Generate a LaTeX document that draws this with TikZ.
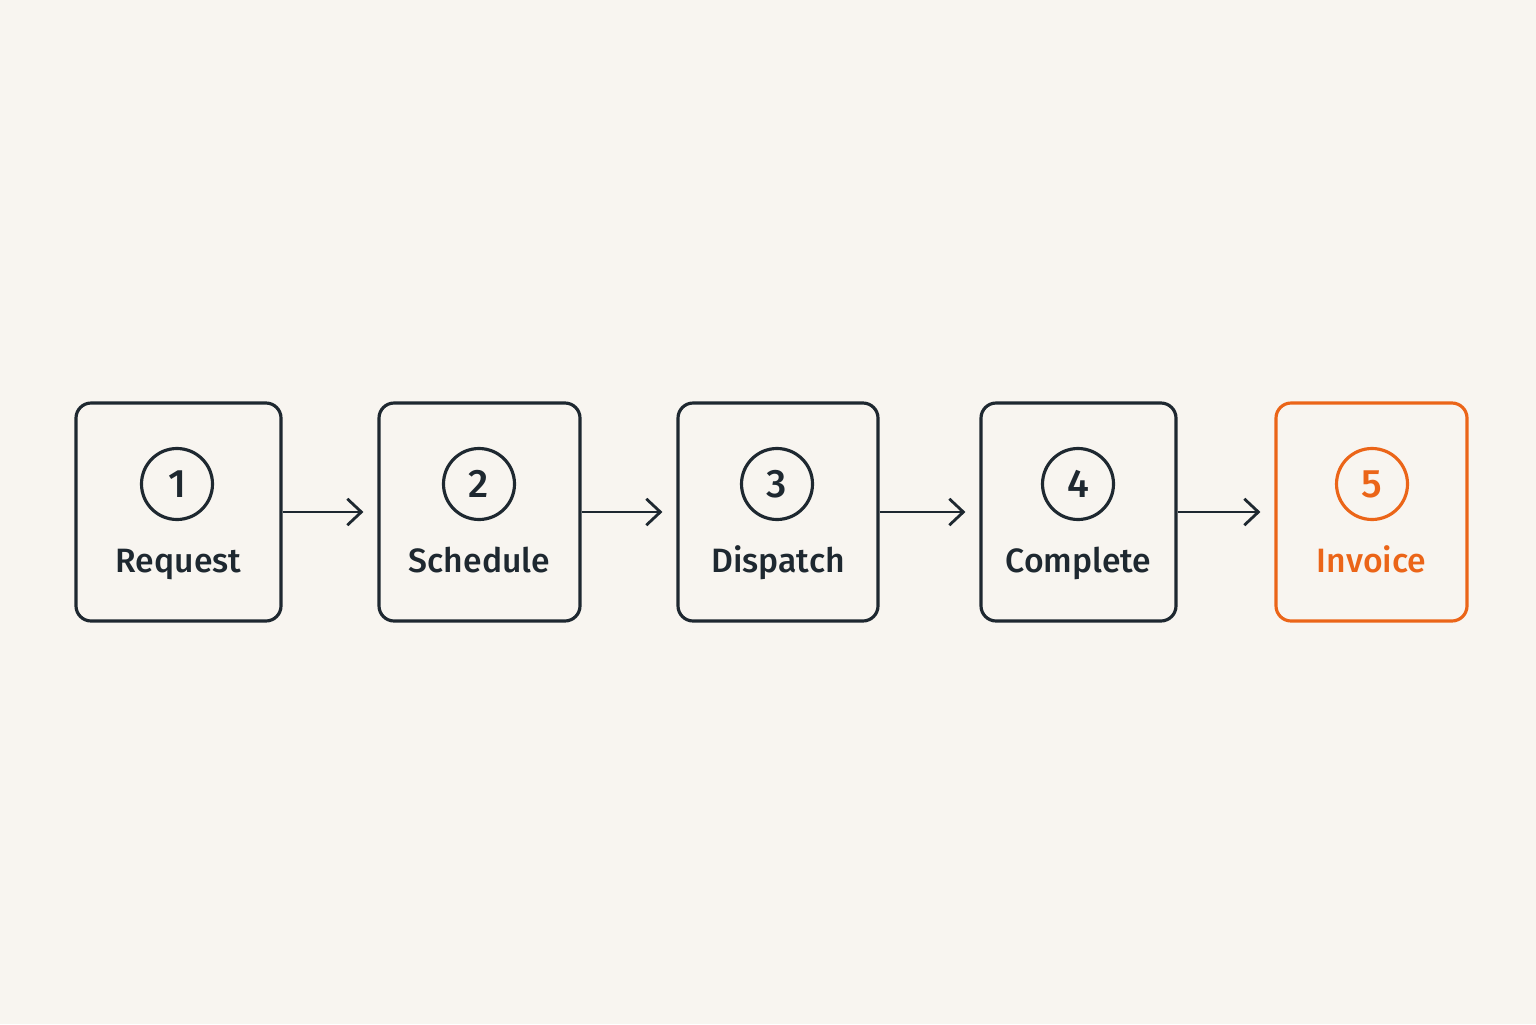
\documentclass[tikz,border=0pt]{standalone}
\usepackage{fontspec}
\setmainfont{Fira Sans Medium}
\usetikzlibrary{arrows.meta}
\definecolor{ink}{HTML}{1E2830}
\definecolor{accent}{HTML}{EB6518}
\definecolor{paper}{HTML}{F8F5F0}
\tikzset{
    stepbox/.style={draw=ink, line width=0.9pt, rounded corners=4.3pt,
        minimum height=2.18cm, inner sep=0pt},
    stepnum/.style={draw=ink, circle, line width=0.9pt, minimum size=0.71cm,
        inner sep=0pt, text=ink, font=\fontsize{11.3}{13}\selectfont},
    steplabel/.style={anchor=base, inner sep=0pt, text=ink,
        font=\fontsize{9.6}{12}\selectfont},
    flow/.style={draw=ink, line width=0.8pt,
        -{Straight Barb[length=4pt,width=7.5pt]}, shorten >=0.14cm},
}
\begin{document}
\begin{tikzpicture}
        %% Background
        \fill[paper] (0,0) rectangle (15.36,10.24);
        \useasboundingbox (0,0) rectangle (15.36,10.24);
        %% Step boxes
        \node[stepbox, minimum width=2.05cm] (request)  at (1.785,5.12) {};
        \node[stepbox, minimum width=2.01cm] (schedule) at (4.795,5.12) {};
        \node[stepbox, minimum width=2.00cm] (dispatch) at (7.78,5.12) {};
        \node[stepbox, minimum width=1.95cm] (complete) at (10.785,5.12) {};
        \node[stepbox, minimum width=1.91cm, draw=accent] (invoice) at (13.715,5.12) {};
        %% Numbers
        \node[stepnum] (num1) at (1.77,5.40) {1};
        \node[stepnum] (num2) at (4.79,5.40) {2};
        \node[stepnum] (num3) at (7.77,5.40) {3};
        \node[stepnum] (num4) at (10.78,5.40) {4};
        \node[stepnum, draw=accent, text=accent] (num5) at (13.72,5.40) {5};
        %% Labels
        \node[steplabel] (lab1) at (1.785,4.52) {Request};
        \node[steplabel] (lab2) at (4.795,4.52) {Schedule};
        \node[steplabel] (lab3) at (7.78,4.52) {Dispatch};
        \node[steplabel] (lab4) at (10.785,4.52) {Complete};
        \node[steplabel, text=accent] (lab5) at (13.715,4.52) {Invoice};
        %% Arrows
        \draw[flow] (request.east)  -- (schedule.west);
        \draw[flow] (schedule.east) -- (dispatch.west);
        \draw[flow] (dispatch.east) -- (complete.west);
        \draw[flow] (complete.east) -- (invoice.west);
    \end{tikzpicture}
\end{document}
